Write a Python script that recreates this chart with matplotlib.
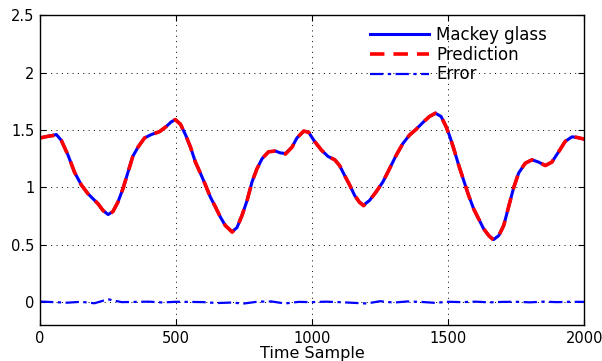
import matplotlib.pyplot as plt

plt.rcParams['font.family'] = ['DejaVu Sans']

# samples
t_mg = [0, 30, 60, 78, 103, 127, 152, 176, 213, 231, 250, 268, 286, 305, 323,
        341, 360, 384, 409, 439, 464, 482, 497, 516, 535, 553, 571, 590, 608,
        626, 645, 663, 681, 706, 724, 742, 761, 779, 797, 816, 840, 865, 883,
        902, 926, 944, 969, 987, 1009, 1034, 1058, 1083, 1101, 1119, 1138,
        1156, 1174, 1189, 1211, 1235, 1260, 1284, 1309, 1333, 1358, 1382,
        1407, 1431, 1453, 1474, 1492, 1505, 1520, 1539, 1557, 1575, 1594,
        1612, 1630, 1649, 1667, 1686, 1704, 1722, 1741, 1759, 1783, 1808,
        1832, 1857, 1881, 1906, 1930, 1955, 1973, 2000]
mackey = [1.43, 1.445, 1.46, 1.41, 1.28, 1.13, 1.02, 0.945, 0.857, 0.80,
          0.763, 0.79, 0.87, 0.99, 1.13, 1.27, 1.35, 1.43, 1.46, 1.485, 1.53,
          1.57, 1.59, 1.55, 1.456, 1.35, 1.22, 1.12, 1.02, 0.915, 0.827, 0.74,
          0.667, 0.614, 0.65, 0.754, 0.886, 1.047, 1.16, 1.25, 1.31, 1.316,
          1.30, 1.295, 1.35, 1.43, 1.49, 1.48, 1.40, 1.325, 1.27, 1.24, 1.19,
          1.105, 1.02, 0.93, 0.87, 0.845, 0.886, 0.96, 1.047, 1.16, 1.28,
          1.38, 1.456, 1.505, 1.565, 1.617, 1.646, 1.617, 1.53, 1.45, 1.34,
          1.19, 1.06, 0.93, 0.81, 0.725, 0.64, 0.58, 0.545, 0.58, 0.667, 0.83,
          1.00, 1.125, 1.21, 1.24, 1.22, 1.19, 1.22, 1.31, 1.40, 1.44, 1.435,
          1.42]
prediction = [1.43, 1.445, 1.455, 1.41, 1.28, 1.13, 1.02, 0.945, 0.857,
              0.80, 0.755, 0.79, 0.87, 0.99, 1.13, 1.27, 1.35, 1.43, 1.46,
              1.485, 1.53, 1.57, 1.59, 1.55, 1.456, 1.35, 1.22, 1.12, 1.02,
              0.915, 0.827, 0.74, 0.667, 0.61, 0.65, 0.754, 0.886, 1.047, 1.16,
              1.25, 1.31, 1.316, 1.30, 1.29, 1.35, 1.43, 1.49, 1.48, 1.40,
              1.325, 1.27, 1.24, 1.19, 1.105, 1.02, 0.93, 0.87, 0.84, 0.886,
              0.96, 1.047, 1.16, 1.28, 1.38, 1.456, 1.505, 1.565, 1.617, 1.646,
              1.617, 1.53, 1.45, 1.34, 1.19, 1.06, 0.93, 0.81, 0.725, 0.64,
              0.58, 0.54, 0.58, 0.667, 0.83, 1.00, 1.125, 1.21, 1.24, 1.22,
              1.19, 1.22, 1.31, 1.40, 1.44, 1.435, 1.42]

t_err = [0, 50, 100, 150, 200, 250, 300, 350, 400, 450, 500, 550, 600, 650,
         700, 750, 800, 850, 900, 950, 1000, 1050, 1100, 1150, 1200, 1250,
         1300, 1350, 1400, 1450, 1500, 1550, 1600, 1650, 1700, 1750, 1800,
         1850, 1900, 1950, 2000]
error = [0.005, 0.0, -0.005, 0.003, -0.01, 0.025, 0.0, 0.002, 0.004, -0.003,
         0.003, 0.002, 0.0, -0.008, -0.004, -0.012, 0.004, 0.006, -0.012,
         0.002, 0.0, 0.004, 0.0, -0.006, -0.012, 0.008, -0.004, 0.006, 0.002,
         -0.006, 0.003, 0.0, 0.004, -0.002, 0.002, 0.003, -0.002, 0.004, 0.0,
         0.003, 0.002]

fig = plt.figure(figsize=(6.02, 3.61), dpi=100)
ax = fig.add_axes([0.0665, 0.0995, 0.904, 0.8585])

ax.plot(t_mg, mackey, color='#0000ff', lw=2.2, label='Mackey glass')
ax.plot(t_mg, prediction, color='#ff0000', lw=2.6, dashes=(4, 2.5),
        label='Prediction')
ax.plot(t_err, error, color='#0000ff', lw=1.6, dashes=(6, 2, 1.5, 2),
        label='Error')

ax.set_xlim(0, 2000)
ax.set_ylim(-0.2, 2.5)
ax.set_xticks([0, 500, 1000, 1500, 2000])
ax.set_yticks([0, 0.5, 1, 1.5, 2, 2.5])
ax.set_yticklabels(['0', '0.5', '1', '1.5', '2', '2.5'])
ax.grid(True, color='black', lw=0.7, linestyle=(0, (1, 4.5)))
ax.tick_params(direction='in', length=4, top=True, right=True,
               labelsize=10.5, colors='black', pad=4)
for s in ax.spines.values():
    s.set_linewidth(1.0)
ax.set_xlabel('Time Sample', fontsize=11.5, labelpad=0)

ax.legend(loc='upper left', frameon=False, fontsize=12, handlelength=3.5,
          handletextpad=0.45, labelspacing=0.1, borderpad=0,
          borderaxespad=0, bbox_to_anchor=(0.607, 0.965))

fig.savefig('out.png', dpi=100)
